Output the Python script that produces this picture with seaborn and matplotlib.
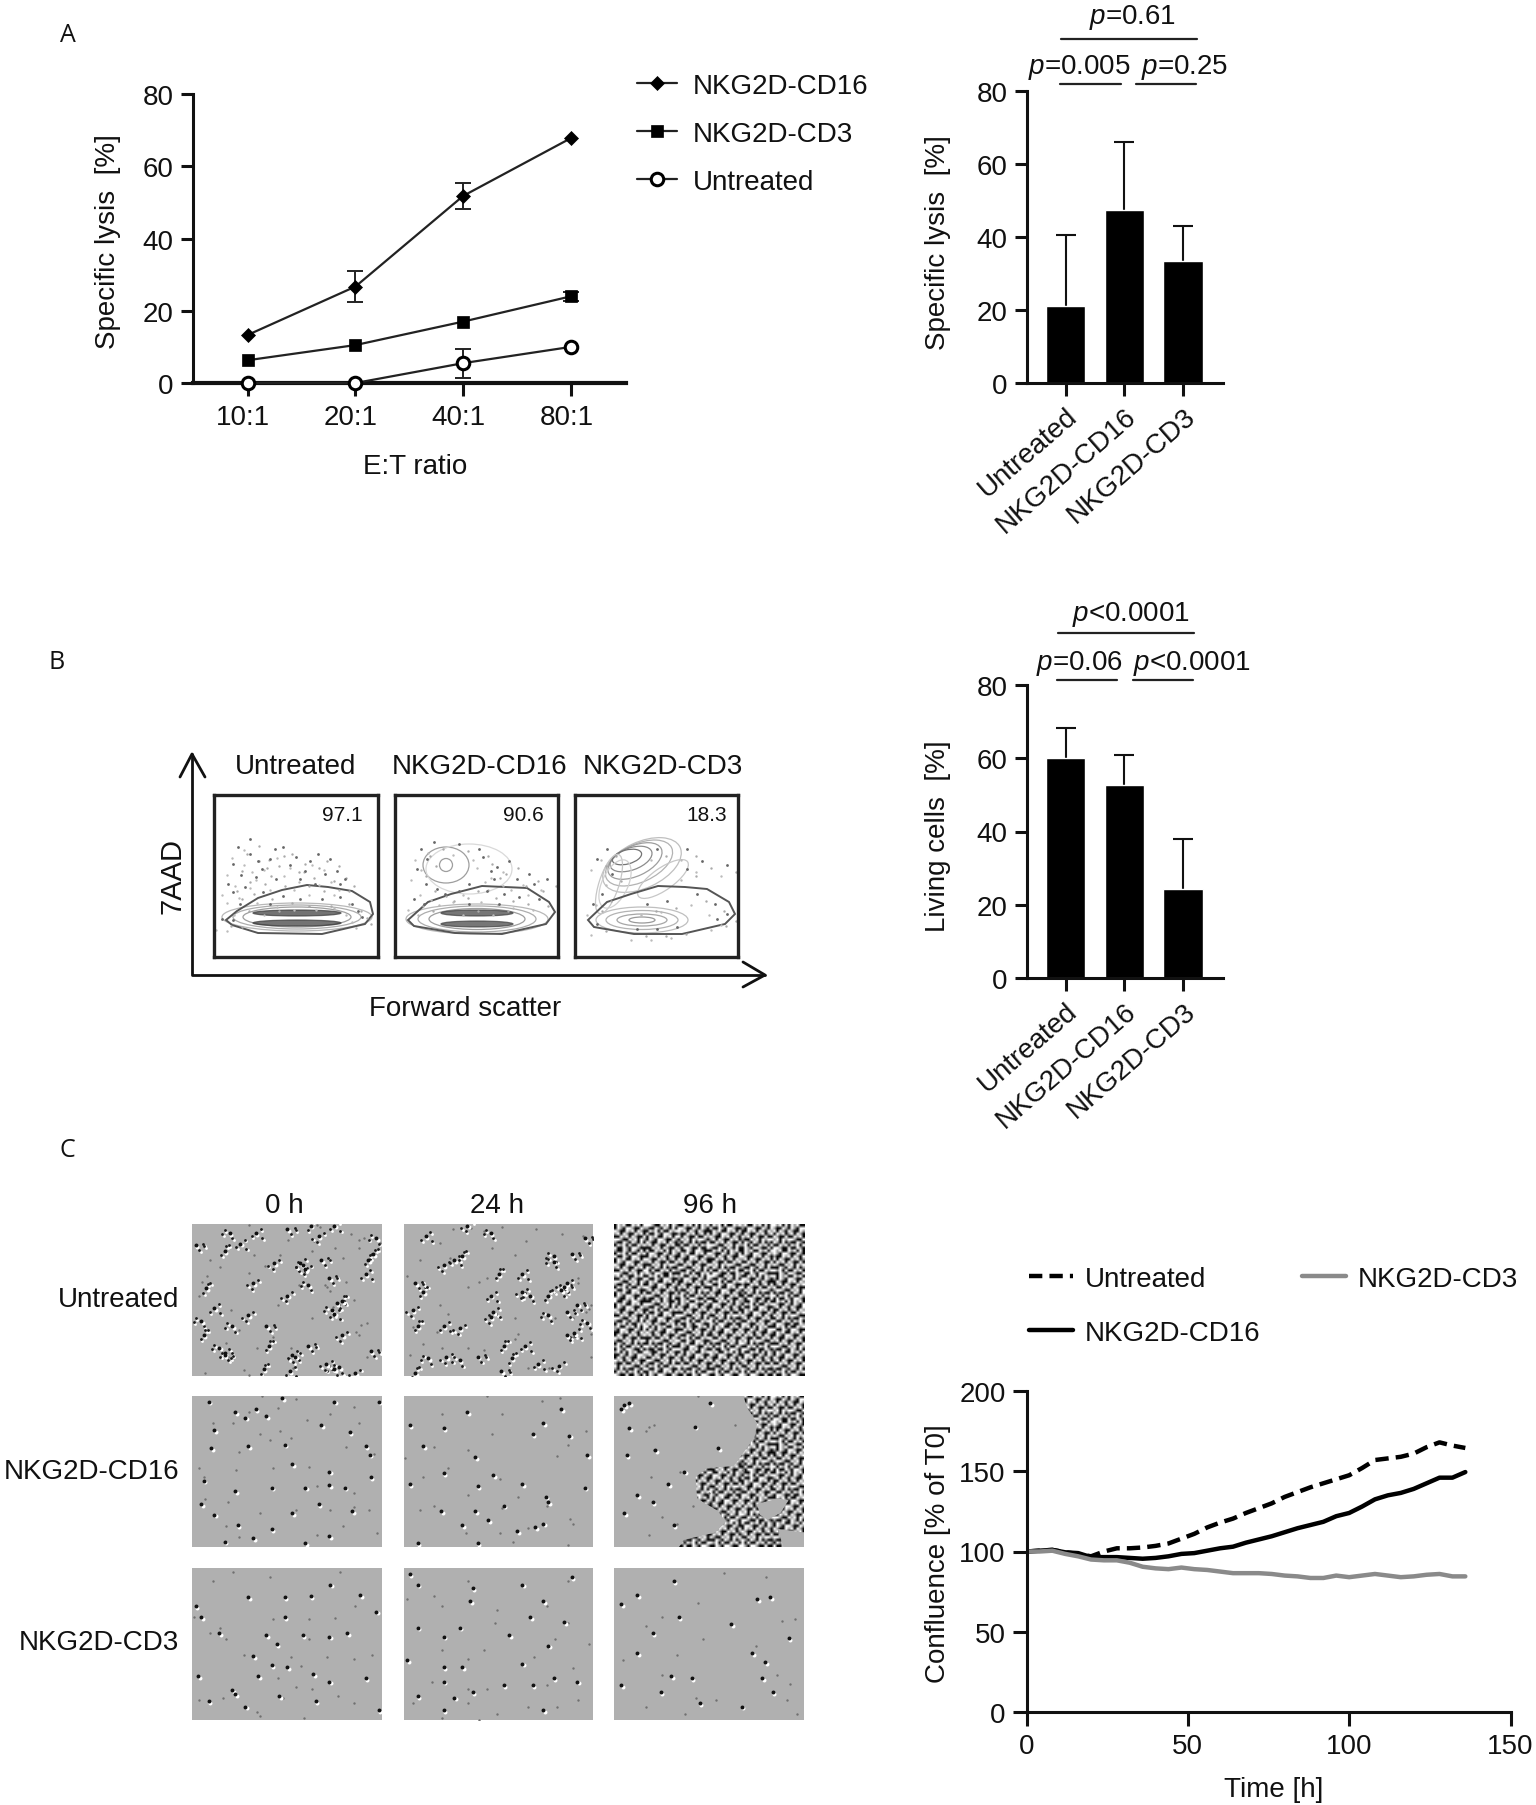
import numpy as np
import pandas as pd
import seaborn as sns
import matplotlib
matplotlib.use("Agg")
import matplotlib.pyplot as plt
from matplotlib.patches import Ellipse, Polygon
from matplotlib.transforms import ScaledTranslation

W, H = 1536, 1806

# panel A, lysis curves
ratios = ["10:1", "20:1", "40:1", "80:1"]
lysis_cd16 = [13.3, 26.7, 51.8, 67.8]
lysis_cd16_err = [0, 4.4, 3.5, 0]
lysis_cd3 = [6.3, 10.5, 17.0, 24.0]
lysis_cd3_err = [0, 0, 0, 1.2]
lysis_untreated = [0.0, 0.0, 5.5, 10.0]
lysis_untreated_err = [0, 0, 4.0, 0]

# bars
groups = ["Untreated", "NKG2D-CD16", "NKG2D-CD3"]
lysis_bar = [21.0, 47.5, 33.5]
lysis_bar_top = [40.5, 66.0, 43.0]
living_bar = [60.0, 52.7, 24.2]
living_bar_top = [68.3, 61.0, 38.0]

# panel C, confluence
hours = list(range(0, 140, 4))
conf_untreated = [100, 100.5, 101, 99.5, 98.5, 97, 100, 102, 102, 102.5, 103.5, 105, 108, 111, 115, 118, 120.5,
                  124, 127, 130, 134, 137, 140, 142.5, 145, 147.5, 152, 157, 158, 159, 161, 165, 168, 166, 164.5]
conf_cd16 = [100, 100.5, 101, 99.5, 99, 96.5, 96.5, 96.5, 96, 95.5, 96, 97, 98.5, 99, 100.5, 102, 103,
             105.5, 107.5, 109.5, 112, 114.5, 116.5, 118.5, 122, 124, 128, 132.5, 135, 136.5, 139, 142.5, 146, 146, 149.5]
conf_cd3 = [100, 100, 100.5, 98.5, 97, 95, 94.5, 94.5, 93, 90.5, 89.5, 89, 90, 89, 88.5, 87.5, 86.5,
            86.5, 86.5, 86, 85, 84.5, 83.5, 83.5, 85, 84, 85, 86, 85, 84, 84.5, 85.5, 86, 84.5, 84.5]

# flow plots: gates and dots in image pixels
flow_boxes = [(214, 378), (395, 558), (575, 738)]
flow_shift = [0, 1, 3]
gate_untreated = [(226, 921), (237, 912), (258, 899), (282, 891), (307, 886), (328, 888), (352, 892),
                  (370, 903), (373, 915), (365, 925), (322, 935), (258, 934), (232, 926)]
gate_cd16 = [(409, 921), (429, 903), (452, 895), (483, 887), (506, 888), (528, 889), (550, 903),
             (556, 913), (547, 925), (503, 935), (456, 934), (415, 927)]
gate_cd3 = [(591, 921), (610, 903), (634, 895), (661, 887), (688, 888), (710, 890), (732, 903),
            (738, 915), (728, 925), (685, 935), (637, 935), (597, 928)]
dots_untreated = [(241, 876), (233, 865), (238, 848), (250, 855), (262, 870), (270, 860), (283, 848), (290, 866),
                  (300, 880), (310, 862), (318, 855), (325, 875), (337, 872), (345, 880), (228, 885), (245, 888),
                  (256, 878), (276, 880), (296, 858), (305, 872), (330, 860), (315, 885), (233, 893), (263, 893),
                  (283, 897), (300, 900), (322, 900), (340, 898), (352, 905), (240, 905), (270, 905), (358, 912),
                  (362, 918), (233, 921), (222, 920), (250, 840), (275, 850), (258, 862), (340, 885)]
dots_cd16 = [(422, 850), (428, 860), (418, 870), (435, 843), (460, 845), (480, 850), (498, 868), (510, 862),
             (495, 880), (518, 880), (535, 885), (548, 880), (427, 885), (438, 890), (460, 892), (470, 885),
             (488, 892), (505, 895), (520, 898), (530, 875), (415, 900), (425, 905), (540, 900), (470, 905),
             (500, 905), (446, 895), (484, 858), (492, 872)]
dots_cd3 = [(600, 860), (610, 850), (615, 875), (605, 895), (596, 905), (660, 850), (690, 850), (705, 862),
            (730, 866), (690, 870), (700, 895), (718, 905), (650, 905), (730, 915), (720, 920), (680, 928),
            (640, 930), (600, 925), (660, 930), (670, 902)]
# contour rings: cx, cy, width, height, angle, grey
rings_untreated = [(297, 918, 150, 28, 0, "0.72"), (297, 918, 128, 24, 0, "0.68"), (297, 918, 108, 20, 0, "0.62"),
                   (297, 914, 88, 6, 0, "0.22"), (297, 924, 88, 6, 0, "0.22")]
rings_cd16 = [(478, 920, 142, 30, 0, "0.72"), (478, 920, 118, 26, 0, "0.68"), (478, 920, 96, 21, 0, "0.62"),
              (478, 914, 72, 6, 0, "0.24"), (478, 925, 72, 6, 0, "0.24"),
              (447, 866, 46, 36, 0, "0.62"), (447, 866, 13, 13, 0, "0.62"), (470, 870, 86, 50, 0, "0.85")]
rings_cd3 = [(645, 921, 92, 26, 0, "0.75"), (645, 921, 72, 19, 0, "0.7"), (645, 921, 50, 12, 0, "0.65"),
             (645, 921, 26, 6, 0, "0.6"), (645, 866, 84, 46, -25, "0.75"), (642, 864, 72, 38, -25, "0.7"),
             (638, 862, 58, 30, -25, "0.62"), (634, 860, 44, 22, -20, "0.55"), (630, 858, 30, 14, -15, "0.45"),
             (612, 885, 20, 62, 18, "0.78"), (618, 885, 26, 52, 25, "0.82"), (666, 880, 60, 22, -35, "0.78")]

# micrographs: edges and specks in zoomed crop units
micro_x_edges = [(367, 732), (773, 1135), (1176, 1540)]
micro_y_edges = [(126, 548), (604, 1026), (1085, 1507)]
specks_u0 = [(490, 150), (610, 160), (720, 165), (375, 185), (430, 200), (460, 180), (525, 235), (580, 240), (615, 225),
             (715, 210), (700, 265), (485, 290), (590, 295), (630, 275), (395, 305), (410, 360), (475, 380), (385, 395),
             (510, 410), (655, 340), (640, 375), (655, 435), (420, 470), (430, 490), (515, 465), (560, 490), (625, 515),
             (650, 525), (710, 480), (505, 530), (555, 535), (680, 540), (440, 150), (550, 140), (595, 130), (640, 130),
             (550, 325), (445, 410), (590, 465), (390, 435), (575, 235), (585, 250), (635, 365), (645, 345), (705, 225),
             (430, 485), (565, 495), (640, 530)]
specks_u24 = [(815, 160), (895, 130), (940, 150), (1120, 165), (885, 215), (870, 225), (850, 240), (1060, 230), (1095, 210),
              (955, 265), (1000, 265), (1085, 290), (1075, 310), (795, 290), (810, 315), (940, 325), (1000, 315), (1015, 325),
              (1105, 350), (1050, 325), (945, 370), (790, 365), (1050, 380), (1085, 370), (800, 410), (850, 410), (880, 415),
              (1125, 400), (1085, 435), (965, 465), (1005, 465), (855, 497), (880, 505), (915, 495), (980, 500), (1030, 515),
              (1070, 520), (820, 500), (960, 535), (795, 540), (1100, 430), (940, 385), (1060, 215), (1080, 300)]
specks_c0 = [(450, 650), (470, 665), (490, 640), (510, 660), (410, 700), (615, 685), (670, 705), (700, 745), (708, 768),
             (545, 740), (475, 745), (405, 750), (560, 795), (630, 815), (710, 830), (390, 840), (450, 870), (520, 860),
             (585, 860), (630, 852), (660, 860), (610, 905), (675, 925), (385, 905), (410, 935), (520, 975), (455, 965),
             (485, 1000), (585, 1015), (630, 995), (430, 1010), (560, 930), (400, 620), (640, 620), (725, 620), (540, 610)]
specks_c24 = [(785, 685), (850, 695), (895, 650), (1075, 640), (1040, 680), (1090, 715), (1020, 710), (810, 745), (910, 775),
              (945, 825), (1000, 850), (1045, 885), (1050, 900), (915, 855), (850, 820), (785, 850), (965, 910), (910, 925),
              (1040, 960), (845, 925), (935, 950), (990, 980), (800, 1015), (915, 1015), (1025, 970), (885, 965), (1125, 770),
              (1120, 860)]
specks_c96 = [(1195, 630), (1205, 695), (1310, 815), (1255, 755), (1200, 770), (1360, 625), (1330, 690), (1280, 850),
              (1220, 880), (1195, 930), (1290, 965), (1250, 900), (1375, 750), (1190, 640), (1205, 625)]
specks_d0 = [(632, 1130), (545, 1165), (475, 1165), (595, 1163), (690, 1160), (375, 1190), (385, 1220), (545, 1220), (720, 1205),
             (580, 1270), (510, 1270), (630, 1275), (665, 1265), (420, 1265), (530, 1295), (485, 1330), (520, 1355), (550, 1360),
             (495, 1385), (600, 1380), (445, 1425), (450, 1435), (400, 1455), (605, 1455), (470, 1470), (700, 1390), (630, 1400),
             (380, 1385), (535, 1440), (725, 1480)]
specks_d24 = [(785, 1100), (800, 1130), (905, 1140), (1000, 1130), (1095, 1110), (1040, 1175), (900, 1175), (800, 1250),
              (880, 1250), (1015, 1220), (1080, 1235), (850, 1275), (975, 1270), (1050, 1300), (780, 1340), (850, 1360), (885, 1360),
              (1000, 1350), (1060, 1390), (965, 1410), (1020, 1410), (850, 1400), (905, 1430), (870, 1445), (800, 1440), (850, 1480),
              (1040, 1480), (1105, 1400)]
specks_d96 = [(1220, 1160), (1290, 1120), (1450, 1170), (1475, 1165), (1190, 1185), (1250, 1265), (1300, 1220), (1400, 1240),
              (1440, 1320), (1465, 1345), (1460, 1390), (1285, 1385), (1325, 1390), (1190, 1410), (1265, 1430), (1510, 1280),
              (1480, 1430), (1340, 1460), (1420, 1470), (1220, 1320)]
# outline of the confluent patch in the 96 h NKG2D-CD16 picture, and the gaps in it
patch_c96 = [(1423, 604), (1540, 604), (1540, 1026), (1300, 1026), (1310, 1005), (1370, 985), (1390, 955), (1375, 925),
             (1335, 890), (1332, 830), (1355, 805), (1405, 800), (1420, 770), (1445, 720), (1450, 680), (1432, 640)]
gap_c96 = [(1450, 905), (1490, 890), (1510, 895), (1495, 930), (1470, 950), (1455, 935)]
gap2_c96 = [(1490, 975), (1540, 985), (1540, 1026), (1500, 1026)]
# dense cell layer texture
texture_rows = ["kwgwkkwgwkw", "kwgkwwgkkwg", "wgkkwgwkwgk", "gwkwgkkwgwk", "kkwgwkwgkkw",
                "wwgkkwgwkwg", "gkkwgkwgkwk", "kwgwkwkkwgw", "wkkwgkwwgkk"]
# block turns, so the tiling does not run in straight diagonals
block_rolls = [[0, 4, 7, 2, 9, 5], [3, 8, 1, 6, 0, 10], [6, 2, 9, 4, 7, 1], [1, 5, 0, 8, 3, 6], [9, 3, 6, 1, 5, 2], [4, 7, 2, 10, 8, 0]]
# clump offsets for the untreated panels
clump_dx = [[9, -12, 5, 14, -6], [-8, 10, -14, 7, 3], [12, -3, -10, 16, 8]]
clump_dy = [[-11, 6, 15, -4, 12], [10, -9, 4, 14, -13], [14, 16, -8, 2, -15]]

sns.set_theme(style="ticks")
plt.rcParams["font.family"] = ["Liberation Sans", "DejaVu Sans"]
plt.rcParams["mathtext.fontset"] = "custom"
plt.rcParams["mathtext.it"] = "Liberation Sans:italic"
plt.rcParams["mathtext.rm"] = "Liberation Sans"
plt.rcParams["font.size"] = 20


def px_axes(left, top, right, bottom):
    return fig.add_axes([left / W, 1 - bottom / H, (right - left) / W, (bottom - top) / H])


def style_axis(ax, lw=2.2):
    sns.despine(ax=ax)
    for s in ["left", "bottom"]:
        ax.spines[s].set_linewidth(lw)
        ax.spines[s].set_color("#111111")
    ax.tick_params(length=9, width=lw, labelsize=20, color="#111111", labelcolor="#111111", pad=5)


fig = plt.figure(figsize=(W / 100, H / 100), dpi=100, facecolor="white")
ov = fig.add_axes([0, 0, 1, 1])
ov.set_xlim(0, W)
ov.set_ylim(H, 0)
ov.axis("off")
ov.set_zorder(10)


def set_ylabel(ax, text, x, y):
    ax.set_ylabel(text, fontsize=20, color="#111111")
    ax.yaxis.set_label_coords(x, y, transform=ov.transData)


# panel A curves
axA = px_axes(192.7, 95, 626, 384)
series_a = [("NKG2D-CD16", lysis_cd16, lysis_cd16_err, "D", 6.8, "black"),
            ("NKG2D-CD3", lysis_cd3, lysis_cd3_err, "s", 8.5, "black"),
            ("Untreated", lysis_untreated, lysis_untreated_err, "o", 9, "white")]
for name, vals, errs, mk, ms, face in series_a:
    sns.lineplot(x=ratios, y=vals, ax=axA, color="#222222", lw=1.6, marker=mk, ms=ms, mfc=face, mec="black",
                 mew=2.2 if face == "white" else 0.5, label=name, errorbar=None, clip_on=False, zorder=4)
    has_err = [i for i, e in enumerate(errs) if e > 0]
    axA.errorbar(has_err, [vals[i] for i in has_err], yerr=[errs[i] for i in has_err], fmt="none", ecolor="#222222",
                 elinewidth=1.4, capsize=5.5, capthick=1.4, zorder=3)
axA.set_xlim(-0.51, 3.51)
axA.set_ylim(0, 80)
axA.set_yticks([0, 20, 40, 60, 80])
style_axis(axA, 2.2)
axA.spines["bottom"].set_linewidth(3)
axA.tick_params(axis="x", pad=6)
for t in axA.get_xticklabels():
    t.set_transform(t.get_transform() + ScaledTranslation(-0.045, 0, fig.dpi_scale_trans))
set_ylabel(axA, "Specific lysis  [%]", 121, 242)
axA.set_xlabel("E:T ratio", fontsize=20, color="#111111")
axA.xaxis.set_label_coords(415, 467, transform=ov.transData)
axA.xaxis.label.set_verticalalignment("center")
axA.legend(loc="upper left", bbox_to_anchor=(637, 74), bbox_transform=ov.transData, frameon=False, borderpad=0,
           borderaxespad=0, handlelength=1.45, handletextpad=0.55, labelspacing=0.79, fontsize=20, labelcolor="#111111")


def bar_panel(top, bottom, vals, tops, label, label_y):
    ax = px_axes(1026.7, top, 1223, bottom)
    sns.barplot(x=groups, y=vals, ax=ax, color="black", saturation=1, width=0.67, zorder=2)
    errs = np.array(tops) - np.array(vals)
    # lower cap stays hidden inside the bar
    ax.errorbar(groups, np.array(vals) - 1.5, yerr=[np.zeros(3), errs + 1.5], fmt="none", ecolor="#111111", elinewidth=1.5,
                capsize=7, capthick=1.5, zorder=1)
    ax.set_xlim(-0.664, 2.68)
    ax.set_ylim(0, 80)
    ax.set_yticks([0, 20, 40, 60, 80])
    style_axis(ax, 2.2)
    ax.tick_params(axis="x", rotation=41)
    for t in ax.get_xticklabels():
        t.set_ha("right")
        t.set_rotation_mode("anchor")
    set_ylabel(ax, label, 951, label_y)
    return ax


bar_panel(91.7, 384.3, lysis_bar, lysis_bar_top, "Specific lysis  [%]", 243)
bar_panel(686, 979, living_bar, living_bar_top, "Living cells  [%]", 836)

# significance brackets
pairs = [(1061, 1197, 40), (1060, 1121, 85), (1136, 1196, 85), (1058, 1194, 634), (1057, 1117, 681), (1133, 1193, 681)]
for x0, x1, y in pairs:
    ov.plot([x0, x1], [y, y], color="#222222", lw=1.6)
p_texts = [(1089, 24, r"$\mathit{p}$=0.61"), (1028, 74, r"$\mathit{p}$=0.005"), (1141, 74, r"$\mathit{p}$=0.25"),
           (1072, 621, r"$\mathit{p}$<0.0001"), (1036, 670, r"$\mathit{p}$=0.06"), (1133, 670, r"$\mathit{p}$<0.0001")]
for x, y, s in p_texts:
    ov.text(x, y, s, fontsize=20, va="baseline", ha="left", color="#111111")

# panel B flow plots
flow_sets = [(gate_untreated, dots_untreated, rings_untreated, "97.1", 342),
             (gate_cd16, dots_cd16, rings_cd16, "90.6", 523),
             (gate_cd3, dots_cd3, rings_cd3, "18.3", 707)]
for (x0, x1), off, (gate, dots, rings, pct, pct_x) in zip(flow_boxes, flow_shift, flow_sets):
    ax = px_axes(x0, 796, x1, 958)
    ax.set_xticks([])
    ax.set_yticks([])
    for s in ax.spines.values():
        s.set_linewidth(2.4)
        s.set_color("#222222")
    for cx, cy, w, h, ang, grey in rings:
        dark = float(grey) < 0.3
        ax.add_patch(Ellipse((cx, cy), w, h, angle=ang, fc=grey if dark else "none", ec=grey, lw=0.9, alpha=0.7 if dark else 1))
    ax.add_patch(Polygon(gate, closed=True, fc="none", ec="#555555", lw=1.4))
    d = pd.DataFrame(dots, columns=["x", "y"])
    sns.scatterplot(x=d["x"] + 9, y=d["y"] + 7, ax=ax, color="#aaaaaa", s=3, linewidth=0)
    sns.scatterplot(x=d["x"] - 6, y=d["y"] + 11, ax=ax, color="#bbbbbb", s=3, linewidth=0)
    sns.scatterplot(data=d, x="x", y="y", ax=ax, color="#666666", s=4, linewidth=0)
    ax.set_xlim(x0 + off, x1 + off)
    ax.set_ylim(958, 796)
    ax.set_xlabel("")
    ax.set_ylabel("")
    ov.text(pct_x, 816, pct, fontsize=15, ha="center", va="center", color="#111111")

ov.plot([192, 192, 765], [755, 976, 976], color="#111111", lw=2)
ov.plot([180, 192, 205], [778, 755, 778], color="#111111", lw=2)
ov.plot([743, 765, 743], [963, 976, 988], color="#111111", lw=2)
for x, name in zip([296, 480, 663], groups):
    ov.text(x, 767, name, fontsize=20, ha="center", va="center", color="#111111")
ov.text(172, 876, "7AAD", fontsize=21, rotation=90, ha="center", va="center", color="#111111")
ov.text(465, 1009, "Forward scatter", fontsize=20, ha="center", va="center", color="#111111")

# panel C micrographs
tex_map = {"k": 0.03, "w": 1.0, "g": 0.62}
motif = np.array([[tex_map[c] for c in r] for r in texture_rows])
tex = np.vstack([np.hstack([np.roll(motif, n, axis=(i + n) % 2) for n in row]) for i, row in enumerate(block_rolls)])
grey_bg = "#b0b0b0"
all_specks = [[specks_u0, specks_u24, None], [specks_c0, specks_c24, specks_c96], [specks_d0, specks_d24, specks_d96]]
for r, (t, b) in enumerate(micro_y_edges):
    for c, (l, rr) in enumerate(micro_x_edges):
        ax = px_axes(l / 1.915, t / 2.786 + 1180, rr / 1.915, b / 2.786 + 1180)
        ax.axis("off")
        ax.add_patch(plt.Rectangle((l, t), rr - l, b - t, fc=grey_bg, ec="none", zorder=0))
        if (r, c) == (0, 2):
            ax.imshow(tex, extent=(l, rr, b, t), cmap="gray", vmin=0, vmax=1, interpolation="bilinear", aspect="auto", zorder=1)
        if (r, c) == (1, 2):
            im = ax.imshow(tex, extent=(l, rr, b, t), cmap="gray", vmin=0, vmax=1, interpolation="bilinear", aspect="auto", zorder=1)
            clip = Polygon(patch_c96, closed=True, transform=ax.transData, fc="none", ec="none")
            ax.add_patch(clip)
            im.set_clip_path(clip)
            ax.add_patch(Polygon(gap_c96, closed=True, fc=grey_bg, ec="none", zorder=2))
            ax.add_patch(Polygon(gap2_c96, closed=True, fc=grey_bg, ec="none", zorder=2))
        specks = all_specks[r][c]
        if specks is not None:
            d = pd.DataFrame(specks, columns=["x", "y"])
            # faint grain, same specks moved across the panel
            fx = l + (d["x"] - l + 47) % (rr - l)
            fy = t + (d["y"] - t + 61) % (b - t)
            sns.scatterplot(x=fx, y=fy, ax=ax, color="#707070", s=3, linewidth=0, zorder=2)
            if r == 0:
                # untreated cells sit in clumps
                for ox, oy in zip(clump_dx, clump_dy):
                    dx = np.resize(ox, len(d))
                    dy = np.resize(oy, len(d))
                    sns.scatterplot(x=d["x"] + dx + 3, y=d["y"] + dy + 5, ax=ax, color="white", s=4, linewidth=0, zorder=3)
                    sns.scatterplot(x=d["x"] + dx, y=d["y"] + dy, ax=ax, color="#1a1a1a", s=4, linewidth=0, zorder=3)
            sns.scatterplot(x=d["x"] + 3, y=d["y"] + 5, ax=ax, color="white", s=8, linewidth=0, zorder=3)
            sns.scatterplot(x=d["x"], y=d["y"], ax=ax, color="#111111", s=8, linewidth=0, zorder=4)
        ax.set_xlim(l, rr)
        ax.set_ylim(b, t)

for x, s in zip([284, 497, 710], ["0 h", "24 h", "96 h"]):
    ov.text(x, 1206, s, fontsize=20, ha="center", va="center", color="#111111")
for y, s in zip([1300, 1472, 1643], groups):
    ov.text(179, y, s, fontsize=20, ha="right", va="center", color="#111111")

# panel C confluence
axC = px_axes(1026.5, 1392, 1510.5, 1713)
sns.lineplot(x=hours, y=conf_untreated, ax=axC, color="black", lw=3.2, linestyle=(0, (3, 1.6)), label="Untreated", errorbar=None)
sns.lineplot(x=hours, y=conf_cd16, ax=axC, color="black", lw=3.2, label="NKG2D-CD16", errorbar=None)
sns.lineplot(x=hours, y=conf_cd3, ax=axC, color="#8a8a8a", lw=3.2, label="NKG2D-CD3", errorbar=None)
axC.set_xlim(0, 150)
axC.set_ylim(0, 200)
axC.set_xticks([0, 50, 100, 150])
axC.set_yticks([0, 50, 100, 150, 200])
style_axis(axC, 2.2)
axC.tick_params(length=10)
set_ylabel(axC, "Confluence [% of T0]", 951, 1554)
axC.set_xlabel("Time [h]", fontsize=20, color="#111111")
axC.xaxis.set_label_coords(1274, 1790, transform=ov.transData)
axC.xaxis.label.set_verticalalignment("center")
axC.legend(loc="upper left", bbox_to_anchor=(1029, 1267), bbox_transform=ov.transData, frameon=False, ncol=2, borderpad=0,
           borderaxespad=0, handlelength=1.6, handletextpad=0.4, columnspacing=1.5, labelspacing=1.0, fontsize=20, labelcolor="#111111")

# panel letters
for x, y, s in [(68, 35, "A"), (57, 663, "B"), (67, 1151, "C")]:
    ov.text(x, y, s, fontsize=18, family="Open Sans", ha="center", va="center", color="#111111")

fig.savefig("out.png", dpi=100)
